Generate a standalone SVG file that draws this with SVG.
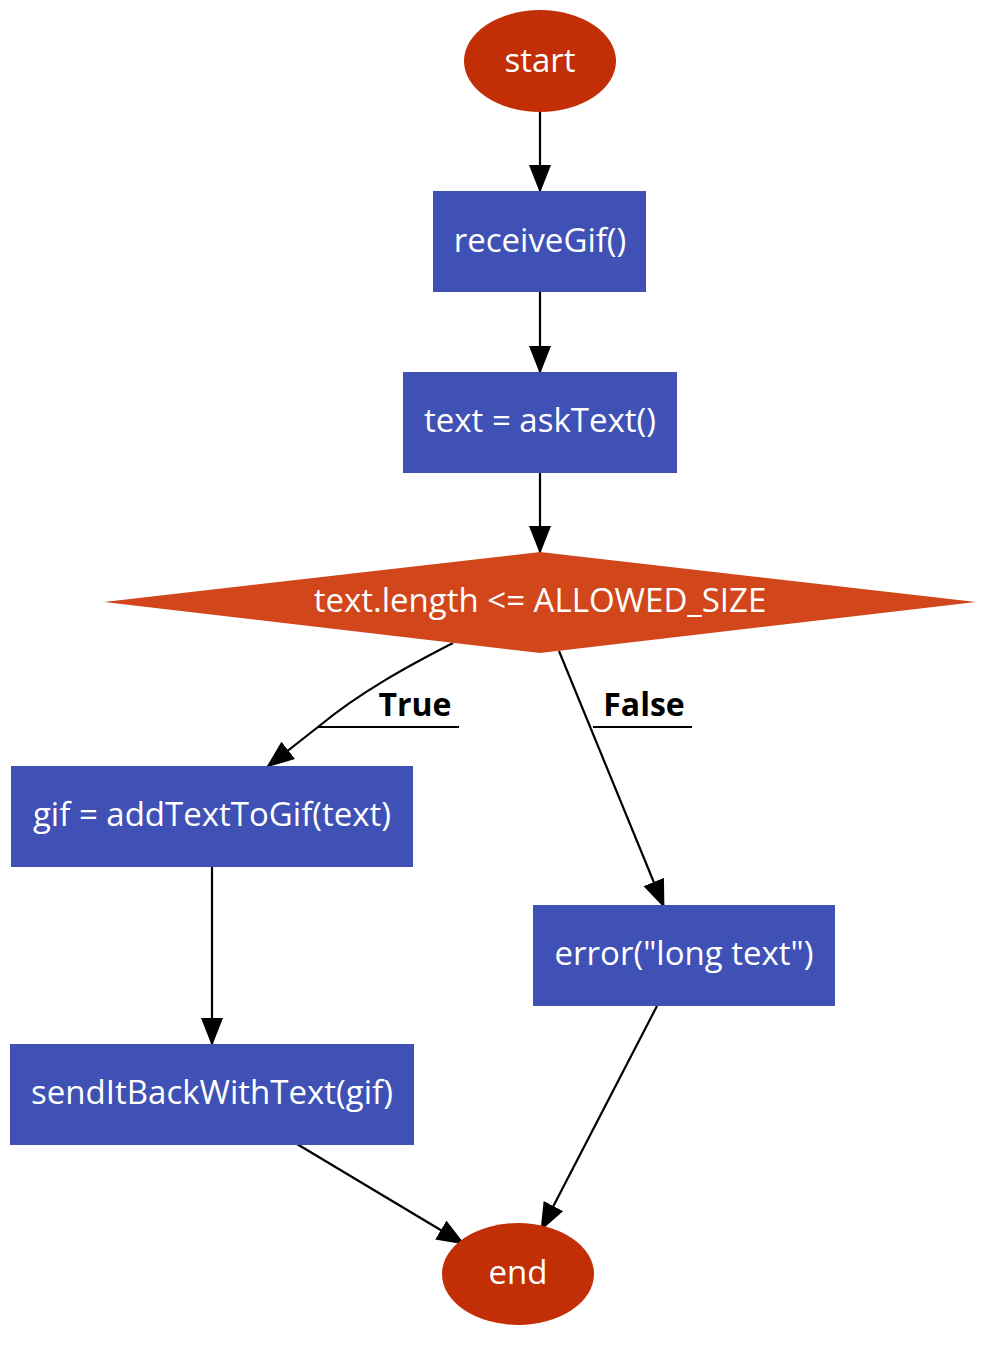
<svg xmlns="http://www.w3.org/2000/svg" width="1000" height="1350" viewBox="0 0 1000 1350">
<style>
.t{font-family:"Open Sans","Noto Sans",sans-serif;font-size:33px;fill:#ffffff;text-anchor:middle;dominant-baseline:central}
.l{font-family:"Open Sans","Noto Sans",sans-serif;font-size:32px;font-weight:bold;fill:#000000;text-anchor:middle}
.e{fill:none;stroke:#000;stroke-width:2.2}
.rect{fill:#4051B5}
.ell{fill:#C22F06}
</style>
<defs>
<marker id="ah" markerWidth="28" markerHeight="22" viewBox="0 0 28 22" refX="27" refY="11" orient="auto" markerUnits="userSpaceOnUse">
<path d="M0,0 L28,11 L0,22 Z" fill="#000"/>
</marker>
</defs>
<g id="edges">
<line class="e" x1="540" y1="112" x2="540" y2="192" marker-end="url(#ah)"/>
<line class="e" x1="540" y1="292" x2="540" y2="373" marker-end="url(#ah)"/>
<line class="e" x1="540" y1="473" x2="540" y2="553" marker-end="url(#ah)"/>
<path class="e" d="M453,643 C410,665 360,692 318,727 L267,767" marker-end="url(#ah)"/>
<line class="e" x1="318" y1="727" x2="459" y2="727"/>
<text class="l" x="415" y="716">True</text>
<line class="e" x1="559" y1="651" x2="664" y2="907" marker-end="url(#ah)"/>
<line class="e" x1="593" y1="727" x2="692" y2="727"/>
<text class="l" x="644" y="716">False</text>
<line class="e" x1="212" y1="867" x2="212" y2="1045" marker-end="url(#ah)"/>
<line class="e" x1="297" y1="1144" x2="464" y2="1244" marker-end="url(#ah)"/>
<line class="e" x1="657" y1="1006" x2="541" y2="1230" marker-end="url(#ah)"/>
</g>
<g id="start"><ellipse class="ell" cx="540" cy="61" rx="76" ry="51"/><text class="t" x="540" y="59">start</text></g>
<g id="receiveGif"><rect class="rect" x="433" y="191" width="213" height="101"/><text class="t" x="540" y="239">receiveGif()</text></g>
<g id="askText"><rect class="rect" x="403" y="372" width="274" height="101"/><text class="t" x="540" y="419">text = askText()</text></g>
<g id="decision"><polygon points="540,552 976,602 540,653 104,602" fill="#D1461B"/><text class="t" x="540" y="599">text.length &lt;= ALLOWED_SIZE</text></g>
<g id="addText"><rect class="rect" x="11" y="766" width="402" height="101"/><text class="t" x="212" y="813">gif = addTextToGif(text)</text></g>
<g id="sendBack"><rect class="rect" x="10" y="1044" width="404" height="101"/><text class="t" x="212" y="1091">sendItBackWithText(gif)</text></g>
<g id="error"><rect class="rect" x="533" y="905" width="302" height="101"/><text class="t" x="684" y="952">error("long text")</text></g>
<g id="end"><ellipse class="ell" cx="518" cy="1274" rx="76" ry="51"/><text class="t" x="518" y="1271">end</text></g>
</svg>
